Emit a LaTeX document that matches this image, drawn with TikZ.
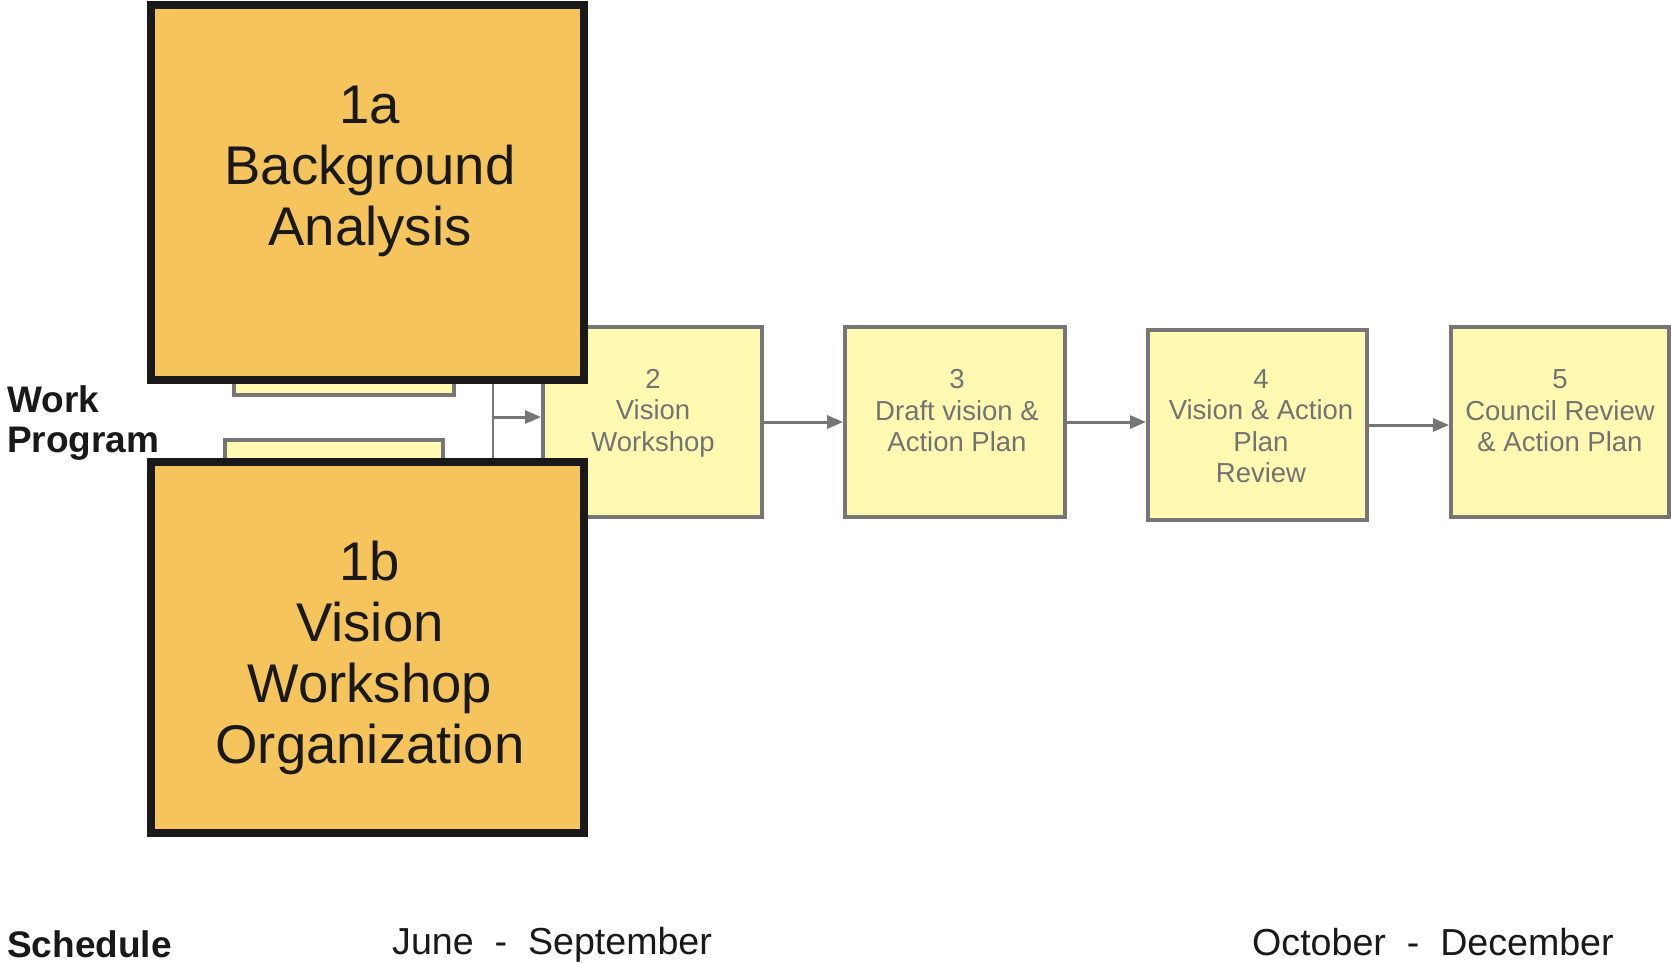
\documentclass[tikz,border=0pt]{standalone}
\usepackage{fontspec}
\setmainfont{Liberation Sans}
\usetikzlibrary{arrows.meta}
\definecolor{orangefill}{RGB}{245,196,92}
\definecolor{lightfill}{RGB}{255,249,178}
\definecolor{boxgray}{RGB}{118,118,118}
\definecolor{textgray}{RGB}{115,115,115}
\tikzset{
  bigbox/.style={draw=black!90, line width=8pt, fill=orangefill, inner sep=0pt},
  lbox/.style={draw=boxgray, line width=4pt, fill=lightfill, inner sep=0pt},
  bigtext/.style={align=center, text=black!90, font=\fontsize{54.5}{61}\selectfont, inner sep=0pt},
  smalltext/.style={align=center, text=textgray, font=\fontsize{27.5}{31.5}\selectfont, inner sep=0pt},
  labeltext/.style={align=left, text=black!90, font=\fontsize{37}{40.5}\selectfont\bfseries, inner sep=0pt, anchor=west},
  datetext/.style={text=black!90, font=\fontsize{37.6}{40}\selectfont, inner sep=0pt, anchor=west},
  arr/.style={draw=boxgray, line width=3pt, -{Triangle[length=16pt,width=13pt]}}
}
\begin{document}
\begin{tikzpicture}[x=1pt,y=-1pt]
\useasboundingbox (0,0) rectangle (1671,963);
\clip (0,0) rectangle (1671,963);
\fill[white] (0,0) rectangle (1671,963);
% small boxes behind
\node[lbox, minimum width=220pt, minimum height=35pt] (sa) at (344,377.5) {};
\node[lbox, minimum width=218pt, minimum height=40pt] (sb) at (334,460) {};
% process boxes
\node[lbox, minimum width=219pt, minimum height=190pt] (b2) at (652.5,422) {};
\node[lbox, minimum width=220pt, minimum height=190pt] (b3) at (955,422) {};
\node[lbox, minimum width=219pt, minimum height=190pt] (b4) at (1257.5,425) {};
\node[lbox, minimum width=218pt, minimum height=190pt] (b5) at (1560,422) {};
\node[smalltext] (t2) at (653,413) {2\\Vision\\Workshop};
\node[smalltext] (t3) at (957,411) {3\\Draft vision \&\\Action Plan};
\node[smalltext] (t4) at (1261,426) {4\\Vision \& Action\\Plan\\Review};
\node[smalltext] (t5) at (1560,411) {5\\Council Review\\\& Action Plan};
% connectors
\coordinate (vtop) at (493,381);
\coordinate (vbot) at (493,458);
\coordinate (vj) at (493,417);
\draw[boxgray, line width=2.4pt] (vtop) -- (vbot);
\draw[arr] (vj) -- (vj -| b2.west);
\draw[arr] (b2.east) -- (b3.west);
\draw[arr] (b3.east) -- (b3.east -| b4.west);
\draw[arr] (b4.east) -- (b4.east -| b5.west);
% big boxes
\node[bigbox, minimum width=433pt, minimum height=375pt] (b1a) at (367.5,192.5) {};
\node[bigbox, minimum width=433pt, minimum height=371pt] (b1b) at (367.5,647.5) {};
\node[bigtext] (t1a) at (370,171.5) {1a\\Background\\Analysis};
\node[bigtext] (t1b) at (370,658) {1b\\Vision\\Workshop\\Organization};
% labels
\node[labeltext] (wp) at (7,423) {Work\\Program};
\node[labeltext] (sch) at (7,944) {Schedule};
\node[datetext] (d1) at (392,945) {June \ - \ September};
\node[datetext] (d2) at (1252,942) {October \ - \ December};
\end{tikzpicture}
\end{document}
